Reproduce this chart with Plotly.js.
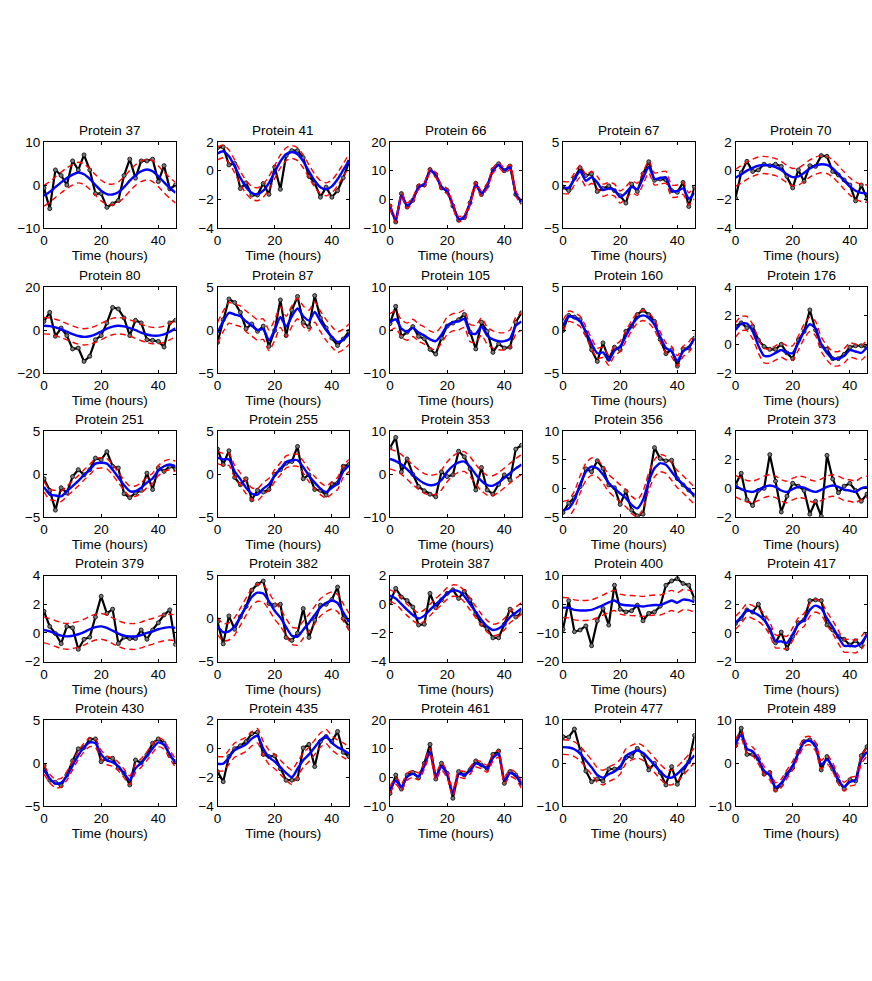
<!DOCTYPE html>
<html>
<head>
<meta charset="utf-8">
<script src="https://cdn.plot.ly/plotly-3.0.1.min.js"></script>
<style>
  body { margin: 0; background: #fff; }
  #chart { width: 872px; height: 981px; }
</style>
</head>
<body>
<div id="chart"></div>
<script>
var hours = [0, 2, 4, 6, 8, 10, 12, 14, 16, 18, 20, 22, 24, 26, 28, 30, 32, 34, 36, 38, 40, 42, 44, 46];

var proteins = [37, 41, 66, 67, 70, 80, 87, 105, 160, 176, 251, 255, 353, 356, 373,
                379, 382, 387, 400, 417, 430, 435, 461, 477, 489];

// measured values (black) and fitted mean (blue)
var obs37 = [-0.7, -5.5, 3.5, 2.2, 0, 5.6, 3.5, 7, 3.5, -2, -2, -5.2, -4.4, -3.6, 2.2, 6, 1.6, 5.6, 5.6, 6, 0.8, 4.5, -0.9, 0];
var fit37 = [-2.5, -1.6, -0.5, 0.6, 1.6, 2.4, 2.9, 2.5, 1.4, 0.0, -1.3, -2.1, -2.2, -1.7, -0.5, 1.0, 2.3, 3.2, 3.6, 3.2, 2.0, 0.6, -0.7, -1.8];
var obs41 = [1.6, 1.65, 0.4, 0.5, -1.25, -0.85, -1.7, -1.7, -0.9, -1.65, 0.25, -1.3, 1.05, 1.4, 1.4, 0.9, -0.4, -0.85, -1.85, -1.15, -1.85, -1.4, -0.5, 0.6];
var fit41 = [1.2, 1.35, 1.0, 0.3, -0.5, -1.15, -1.55, -1.65, -1.4, -0.85, -0.1, 0.65, 1.15, 1.3, 1.15, 0.65, -0.05, -0.7, -1.15, -1.3, -1.1, -0.6, 0.05, 0.7];
var obs66 = [-2.3, -7.9, 2, -2.7, -0.3, 4.6, 5, 10.4, 8.7, 4, 3.1, -2.3, -7.3, -6.4, -1.2, 5.6, 1.7, 4.6, 10.4, 12.4, 10, 11.6, 1.7, -0.8];
var fit66 = [-2.6, -7.2, 1.4, -2.2, -0.1, 4.3, 5.2, 10.0, 8.5, 4.2, 2.8, -2.1, -6.9, -6.3, -1.3, 5.2, 2.0, 4.7, 10.0, 12.0, 10.1, 11.2, 2.0, -0.9];
var obs67 = [-0.25, -0.65, 0.8, 2, 1.1, 1.3, -0.75, -0.4, -0.1, -0.65, -1.25, -2.1, 0.1, -0.75, 1.3, 2.7, 0.55, 0.7, 0.6, -0.65, -0.85, 0.3, -2.5, -0.25];
var fit67 = [-0.3, -0.3, 0.7, 1.6, 0.5, 0.9, 0.3, -0.6, -0.4, -0.6, -1.4, -0.9, -0.2, -0.5, 0.8, 2.1, 0.7, 0.8, 0.9, -0.7, -0.7, -0.4, -1.6, -0.9];
var obs70 = [-1.9, -0.15, 0.65, -0.05, 0.05, 0.45, 0.35, 0.45, 0.3, -0.4, -1.2, 0.05, -0.75, 0.35, 0.3, 1.05, 1.0, -0.05, -0.3, -0.65, -1.0, -2.1, -1.0, -1.95];
var fit70 = [-0.5, -0.25, 0.0, 0.2, 0.35, 0.4, 0.35, 0.25, 0.05, -0.25, -0.45, -0.4, -0.15, 0.15, 0.35, 0.45, 0.4, 0.15, -0.25, -0.7, -1.1, -1.4, -1.55, -1.6];
var obs80 = [4, 8.2, -2.9, 0.9, -2.6, -8.8, -8.4, -14.6, -12.2, -4.5, -2.6, 3.3, 10.5, 9.8, 5.6, -2.6, 4.5, 3.3, -4.5, -4.8, -5.3, -7.9, 3.3, 4.5];
var fit80 = [2.0, 1.8, 1.2, 0.3, -0.8, -1.9, -2.8, -3.2, -2.9, -2.0, -0.7, 0.6, 1.6, 2.0, 1.7, 0.9, -0.1, -1.2, -2.1, -2.6, -2.6, -2.0, -0.8, 0.8];
var obs87 = [-1.45, 1.2, 3.6, 3.2, 2.05, 0.15, 0.7, -0.15, 0.45, -1.9, -0.05, 3.5, -0.65, 2.3, 3.9, 0.9, 0.35, 4.0, 1.4, 0.25, -0.95, -1.8, -1.05, -0.15];
var fit87 = [-0.3, 1.0, 2.0, 1.8, 1.6, 1.0, 0.5, 0.0, 0.1, -1.2, 0.0, 1.5, 0.4, 1.6, 2.5, 1.6, 1.1, 2.1, 1.0, 0.0, -0.8, -1.4, -1.1, -0.5];
var obs105 = [1.5, 5.5, -1.5, -0.5, 0.8, -1.5, -2.0, -4.5, -5.6, -1.9, 0.9, 1.6, 2.4, 3.6, -0.5, -4.4, 1.8, -0.3, -5.2, -3.2, -4.2, -4.0, 1.8, 4.0];
var fit105 = [1.8, 2.5, 0.3, -0.4, 0.5, -0.6, -1.3, -2.2, -2.6, -1.1, 1.0, 1.8, 2.0, 2.6, -0.7, -0.9, 0.8, -1.3, -2.2, -2.6, -2.6, -2.0, 1.0, 2.0];
var obs160 = [-0.05, 1.7, 1.5, 1.2, -0.3, -2.3, -3.65, -1.5, -3.4, -2.0, -2.3, -0.15, 0.45, 1.8, 2.3, 1.8, 1.0, -1.1, -2.75, -2.3, -4.2, -2.2, -2.1, -0.95];
var fit160 = [0.5, 1.6, 1.4, 1.0, -0.2, -1.6, -2.7, -2.6, -3.5, -2.4, -1.9, -0.7, 0.5, 1.4, 1.7, 1.4, 0.6, -0.8, -2.1, -2.5, -3.6, -2.5, -2.0, -1.0];
var obs176 = [1.25, 1.5, 1.15, 1.25, 0.3, -0.15, -0.35, -0.35, 0, -0.6, -1.0, 0.3, 0.9, 2.4, 1.0, -0.1, -0.35, -1.0, -1.0, -0.7, -0.2, -0.1, -0.1, -0.2];
var fit176 = [1.0, 1.45, 1.45, 0.9, -0.1, -0.8, -0.8, -0.6, -0.4, -0.6, -0.6, 0.1, 0.9, 1.4, 1.1, 0.0, -0.6, -1.0, -1.0, -0.8, -0.4, -0.5, -0.6, -0.2];
var obs251 = [-0.55, -1.9, -4.2, -1.6, -2.2, -0.3, 0.5, -0.1, 0.5, 1.85, 1.65, 2.6, 0.9, 0.7, -2.3, -2.75, -2.2, -1.9, 0.1, -1.8, 0.7, 0.3, 0.9, 0.6];
var fit251 = [-1.5, -2.4, -2.5, -2.6, -2.0, -1.4, -0.8, -0.1, 0.5, 1.2, 1.3, 1.2, 0.5, -0.4, -1.3, -2.0, -2.0, -1.6, -1.0, -0.5, 0.4, 0.9, 1.1, 0.9];
var obs255 = [2.9, 1.1, 2.7, -0.4, -1.25, -0.55, -3.0, -1.9, -2.1, -1.8, -0.05, 0.5, 1.25, 1.45, 3.2, -0.55, -0.1, -1.8, -1.9, -2.45, -1.15, -1.05, 0.9, 1.1];
var fit255 = [1.9, 1.7, 1.7, 0.3, -0.6, -1.6, -2.3, -2.4, -1.7, -1.2, -0.2, 0.6, 1.4, 1.6, 1.6, 0.8, -0.2, -1.0, -1.7, -2.1, -1.6, -1.1, 0.3, 1.0];
var obs353 = [6.1, 8.5, 0.5, 3.5, -0.1, -2.9, -3.9, -4.7, -5.3, 0.5, -0.6, -0.2, 5.3, 4.0, 1.2, -3.7, 1.5, -3.7, -4.7, -2.4, -0.2, -1.4, 5.8, 6.7];
var fit353 = [3.5, 3.0, 2.2, 1.1, -0.2, -1.3, -2.2, -2.6, -2.4, -1.4, 0.5, 1.9, 2.7, 2.9, 1.7, -0.1, -1.6, -2.6, -2.7, -2.0, -0.9, 0.2, 1.3, 2.2];
var obs356 = [-4.2, -2.6, -1.6, 0.3, 3.4, 2.9, 4.8, 3.5, 0.6, 0.1, -2.8, -0.5, -3.8, -4.8, -4.5, 1.4, 7.1, 5.2, 4.8, 4.9, 1.7, 0.6, -0.3, -1.2];
var fit356 = [-3.8, -3.5, -2.0, 0.7, 2.9, 3.8, 3.5, 2.4, 0.9, 0.0, -0.9, -1.7, -2.9, -3.5, -2.0, 1.2, 3.5, 4.4, 4.1, 2.9, 1.6, 0.7, -0.3, -1.3];
var obs373 = [0.25, 1.05, -0.8, -1.2, -0.15, 0, 2.35, 0.5, -1.65, -0.55, 0.35, 0.15, -0.15, -1.8, -0.9, -1.95, 2.3, 0.65, -0.3, 0.15, 0.35, -0.15, -0.9, -0.4];
var fit373 = [0.15, -0.05, -0.2, -0.25, -0.1, 0.1, 0.2, 0.1, -0.15, -0.25, -0.05, 0.1, 0.05, -0.15, -0.25, -0.1, 0.1, 0.2, 0.1, -0.1, -0.15, -0.25, 0.0, 0.1];
var obs379 = [1.5, 0.45, -0.05, -0.75, 0.45, 0.35, -1.15, -0.45, -0.3, 1.1, 2.55, 1.35, 1.65, -0.75, -0.3, -0.4, -0.4, 0.2, -0.45, 0.2, 0.7, 1.25, 1.6, -0.8];
var fit379 = [0.2, 0.1, -0.05, -0.2, -0.25, -0.2, -0.1, 0.05, 0.25, 0.4, 0.45, 0.35, 0.15, -0.05, -0.2, -0.25, -0.25, -0.15, 0.0, 0.1, 0.25, 0.35, 0.4, 0.35];
var obs382 = [-0.4, -2.95, 0.3, -1.25, 0.2, 1.4, 3.3, 4.0, 4.35, 1.75, 1.55, 1.65, -2.2, -2.55, -1.7, 1.15, -2.2, -0.2, 1.55, 1.65, 2.2, 3.65, 0, -0.9];
var fit382 = [-0.9, -1.6, -1.5, -0.9, 0.2, 1.4, 2.5, 3.0, 2.9, 2.0, 0.9, 0.1, -1.0, -2.0, -2.1, -1.3, -0.5, 0.4, 1.3, 1.8, 2.1, 1.8, 0.7, -0.4];
var obs387 = [0.15, 1.1, 0.5, 0.25, -0.2, -1.45, -1.4, 0.75, -0.25, 0.3, 0.75, 1.0, 0.4, 0.9, 0.3, -0.65, -1.4, -1.7, -2.35, -2.35, -1.4, -0.35, -0.9, -0.6];
var fit387 = [0.6, 0.4, 0.0, -0.4, -0.75, -1.0, -0.8, -0.4, 0.0, 0.35, 0.75, 0.95, 0.9, 0.55, 0.0, -0.55, -1.1, -1.55, -1.8, -1.7, -1.4, -0.9, -0.6, -0.3];
var obs400 = [-8.8, 1.2, -9.6, -9.0, -7.6, -14.5, -5.8, -1.5, -7.3, 6.6, -1.8, -2.7, -2.3, -0.35, -5.8, -3.2, -2.7, -0.7, 6.6, 8.1, 8.9, 7.2, 6.6, 2.0];
var fit400 = [-1.2, -1.3, -2.0, -2.2, -2.2, -2.0, -1.2, -0.3, 0.6, 1.3, 0.0, -0.4, -0.5, -0.6, -0.8, -0.5, -0.3, -0.3, 0.5, 1.3, 0.5, 1.6, 1.4, 0.7];
var obs417 = [0.65, 1.0, 1.6, 1.45, 2.0, 1.0, 0.2, -0.7, 0.05, -1.1, -0.25, 0.7, 0.9, 2.25, 2.3, 2.25, 0.55, 0.2, -0.25, -0.45, -0.85, -0.55, -0.9, -0.1];
var fit417 = [0.7, 1.1, 1.6, 1.45, 1.25, 0.9, 0.3, -0.6, -0.6, -0.7, -0.1, 0.6, 0.9, 1.6, 1.9, 1.7, 1.0, 0.4, -0.3, -0.9, -0.9, -0.95, -0.7, -0.1];
var obs430 = [-0.3, -2.0, -2.25, -2.65, -1.4, 0.25, 1.65, 1.8, 2.75, 2.8, 0.15, 0.55, 0.55, -0.55, -1.2, -2.55, 0.35, 0, 0.95, 2.3, 2.8, 2.3, 0.85, 0.15];
var fit430 = [-0.8, -1.8, -2.4, -2.3, -1.5, -0.3, 0.9, 1.8, 2.4, 2.3, 1.0, 0.3, 0.1, -0.4, -1.2, -2.0, -0.6, 0.0, 0.8, 1.7, 2.4, 2.1, 1.0, 0.0];
var obs435 = [-1.6, -2.3, -0.55, 0, 0.2, 0.5, 1.05, 1.15, -0.4, -0.55, -0.5, -1.4, -2.2, -2.2, -2.1, 0.05, 0.3, -1.25, 0.5, 0.85, 0.5, 1.2, -0.25, -0.55];
var fit435 = [-1.05, -1.05, -0.6, -0.1, 0.1, 0.3, 0.7, 0.9, 0.0, -0.6, -0.9, -1.3, -1.7, -2.0, -1.4, -0.8, -0.4, 0.1, 0.6, 0.85, 0.4, 0.1, -0.1, -0.35];
var obs461 = [-5.6, 0.8, -4.1, 0.8, 1.7, -0.1, 4.9, 11.5, -0.6, 4.9, 1.4, -7.3, 2.0, 0.8, 2.6, 5.7, 4.3, 3.1, 8.0, 9.2, -2.1, 2.0, 0.8, -2.1];
var fit461 = [-4.3, -1.2, -3.4, 0.2, 1.2, 0.3, 4.0, 9.0, 0.3, 3.8, 1.0, -5.5, 1.2, 0.8, 2.3, 4.8, 4.2, 3.0, 6.8, 8.2, -1.0, 1.5, 0.5, -2.6];
var obs477 = [6.1, 6.0, 7.9, 2.8, -1.85, -4.35, -3.7, -4.2, -1.4, -1.4, -1.1, 1.25, 1.5, 3.4, 2.0, -1.6, -0.1, -2.2, -5.1, -0.85, -4.95, -2.0, 0.3, 6.4];
var fit477 = [3.7, 3.6, 3.2, 2.2, 0.6, -1.0, -2.8, -3.4, -2.6, -2.0, -0.9, 1.6, 2.4, 2.9, 2.3, 1.0, -0.5, -2.0, -3.2, -3.4, -2.5, -1.2, 0.3, 1.8];
var obs489 = [4.0, 8.1, 2.0, 2.0, 0.9, -2.6, -2.2, -6.3, -5.1, -2.6, -1.1, 2.5, 5.0, 5.4, 4.2, -1.6, 1.5, -1.4, -4.2, -6.0, -3.9, -4.2, 1.7, 3.8];
var fit489 = [4.5, 6.5, 3.3, 2.7, 0.8, -1.8, -2.9, -5.6, -4.7, -2.6, -0.6, 2.4, 4.9, 5.2, 3.8, -0.4, 0.8, -1.0, -3.9, -5.5, -4.4, -4.0, 0.8, 2.6];

var observed = [obs37, obs41, obs66, obs67, obs70, obs80, obs87, obs105, obs160, obs176,
                obs251, obs255, obs353, obs356, obs373, obs379, obs382, obs387, obs400, obs417,
                obs430, obs435, obs461, obs477, obs489];
var fitted = [fit37, fit41, fit66, fit67, fit70, fit80, fit87, fit105, fit160, fit176,
              fit251, fit255, fit353, fit356, fit373, fit379, fit382, fit387, fit400, fit417,
              fit430, fit435, fit461, fit477, fit489];

// half width of the confidence band (red dashed), per protein
var bandWidth = [2.4, 0.45, 0.9, 0.7, 0.6, 3.8, 1.2, 2.0, 0.6, 0.5,
                 0.6, 0.7, 2.3, 1.5, 0.75, 0.9, 1.0, 0.4, 3.5, 0.45,
                 0.5, 0.5, 1.2, 1.7, 1.0];

// y axis limits and tick step, per protein
var yMin = [-10, -4, -10, -5, -4, -20, -5, -10, -5, -2, -5, -5, -10, -5, -2, -2, -5, -4, -20, -2, -5, -4, -10, -10, -10];
var yMax = [10, 2, 20, 5, 2, 20, 5, 10, 5, 4, 5, 5, 10, 10, 4, 4, 5, 2, 10, 4, 5, 2, 20, 10, 10];
var yStep = [10, 2, 10, 5, 2, 20, 5, 10, 5, 2, 5, 5, 10, 5, 2, 2, 5, 2, 10, 2, 5, 2, 10, 10, 10];

var W = 872, H = 981;
var colLeft = [44, 217.5, 390, 563, 735.5];
var rowTop = [142, 287, 431, 575.5, 720];
var boxW = 131.5, boxH = 86;
var font = 'Liberation Sans, Arial, Helvetica, sans-serif';
var fsize = 13.5;

var data = [];
var layout = {
  width: W, height: H,
  margin: {l: 0, r: 0, t: 0, b: 0},
  paper_bgcolor: '#fff', plot_bgcolor: '#fff',
  showlegend: false,
  font: {family: font, size: fsize, color: '#000'},
  annotations: []
};

proteins.forEach(function (p, i) {
  var n = i + 1;
  var xa = 'x' + n, ya = 'y' + n;
  var upper = fitted[i].map(function (v) { return v + bandWidth[i]; });
  var lower = fitted[i].map(function (v) { return v - bandWidth[i]; });

  data.push({
    x: hours, y: observed[i], xaxis: xa, yaxis: ya,
    type: 'scatter', mode: 'lines+markers',
    line: {color: '#000', width: 2.2},
    marker: {symbol: 'circle', size: 4, color: '#7a7a7a', line: {color: '#111', width: 0.9}}
  });
  data.push({
    x: hours, y: fitted[i], xaxis: xa, yaxis: ya,
    type: 'scatter', mode: 'lines',
    line: {color: '#0000ff', width: 2.4, shape: 'spline', smoothing: 0.6}
  });
  [upper, lower].forEach(function (b) {
    data.push({
      x: hours, y: b, xaxis: xa, yaxis: ya,
      type: 'scatter', mode: 'lines',
      line: {color: '#ff0000', width: 1.4, dash: '6px,4px', shape: 'spline', smoothing: 0.6}
    });
  });

  var c = i % 5, r = Math.floor(i / 5);
  var x0 = colLeft[c], y0 = rowTop[r];
  var axisStyle = {
    showgrid: false, zeroline: false,
    showline: true, linecolor: '#000', linewidth: 1, mirror: 'ticks',
    ticks: 'inside', ticklen: 3, tickwidth: 1, tickcolor: '#000',
    tickfont: {family: font, size: fsize, color: '#000'}
  };
  layout['xaxis' + n] = Object.assign({}, axisStyle, {
    domain: [x0 / W, (x0 + boxW) / W],
    anchor: ya, range: [0, 46], tickvals: [0, 20, 40],
    title: {text: 'Time (hours)', font: {family: font, size: fsize, color: '#000'}, standoff: 1}
  });
  layout['yaxis' + n] = Object.assign({}, axisStyle, {
    domain: [1 - (y0 + boxH) / H, 1 - y0 / H],
    anchor: xa, range: [yMin[i], yMax[i]], tick0: yMin[i], dtick: yStep[i]
  });
  layout.annotations.push({
    text: 'Protein ' + p, showarrow: false,
    xref: 'paper', yref: 'paper',
    x: (x0 + boxW / 2) / W, y: 1 - (y0 - 12) / H,
    xanchor: 'center', yanchor: 'middle',
    font: {family: font, size: fsize, color: '#000'}
  });
});

Plotly.newPlot('chart', data, layout, {staticPlot: true});
</script>
</body>
</html>
